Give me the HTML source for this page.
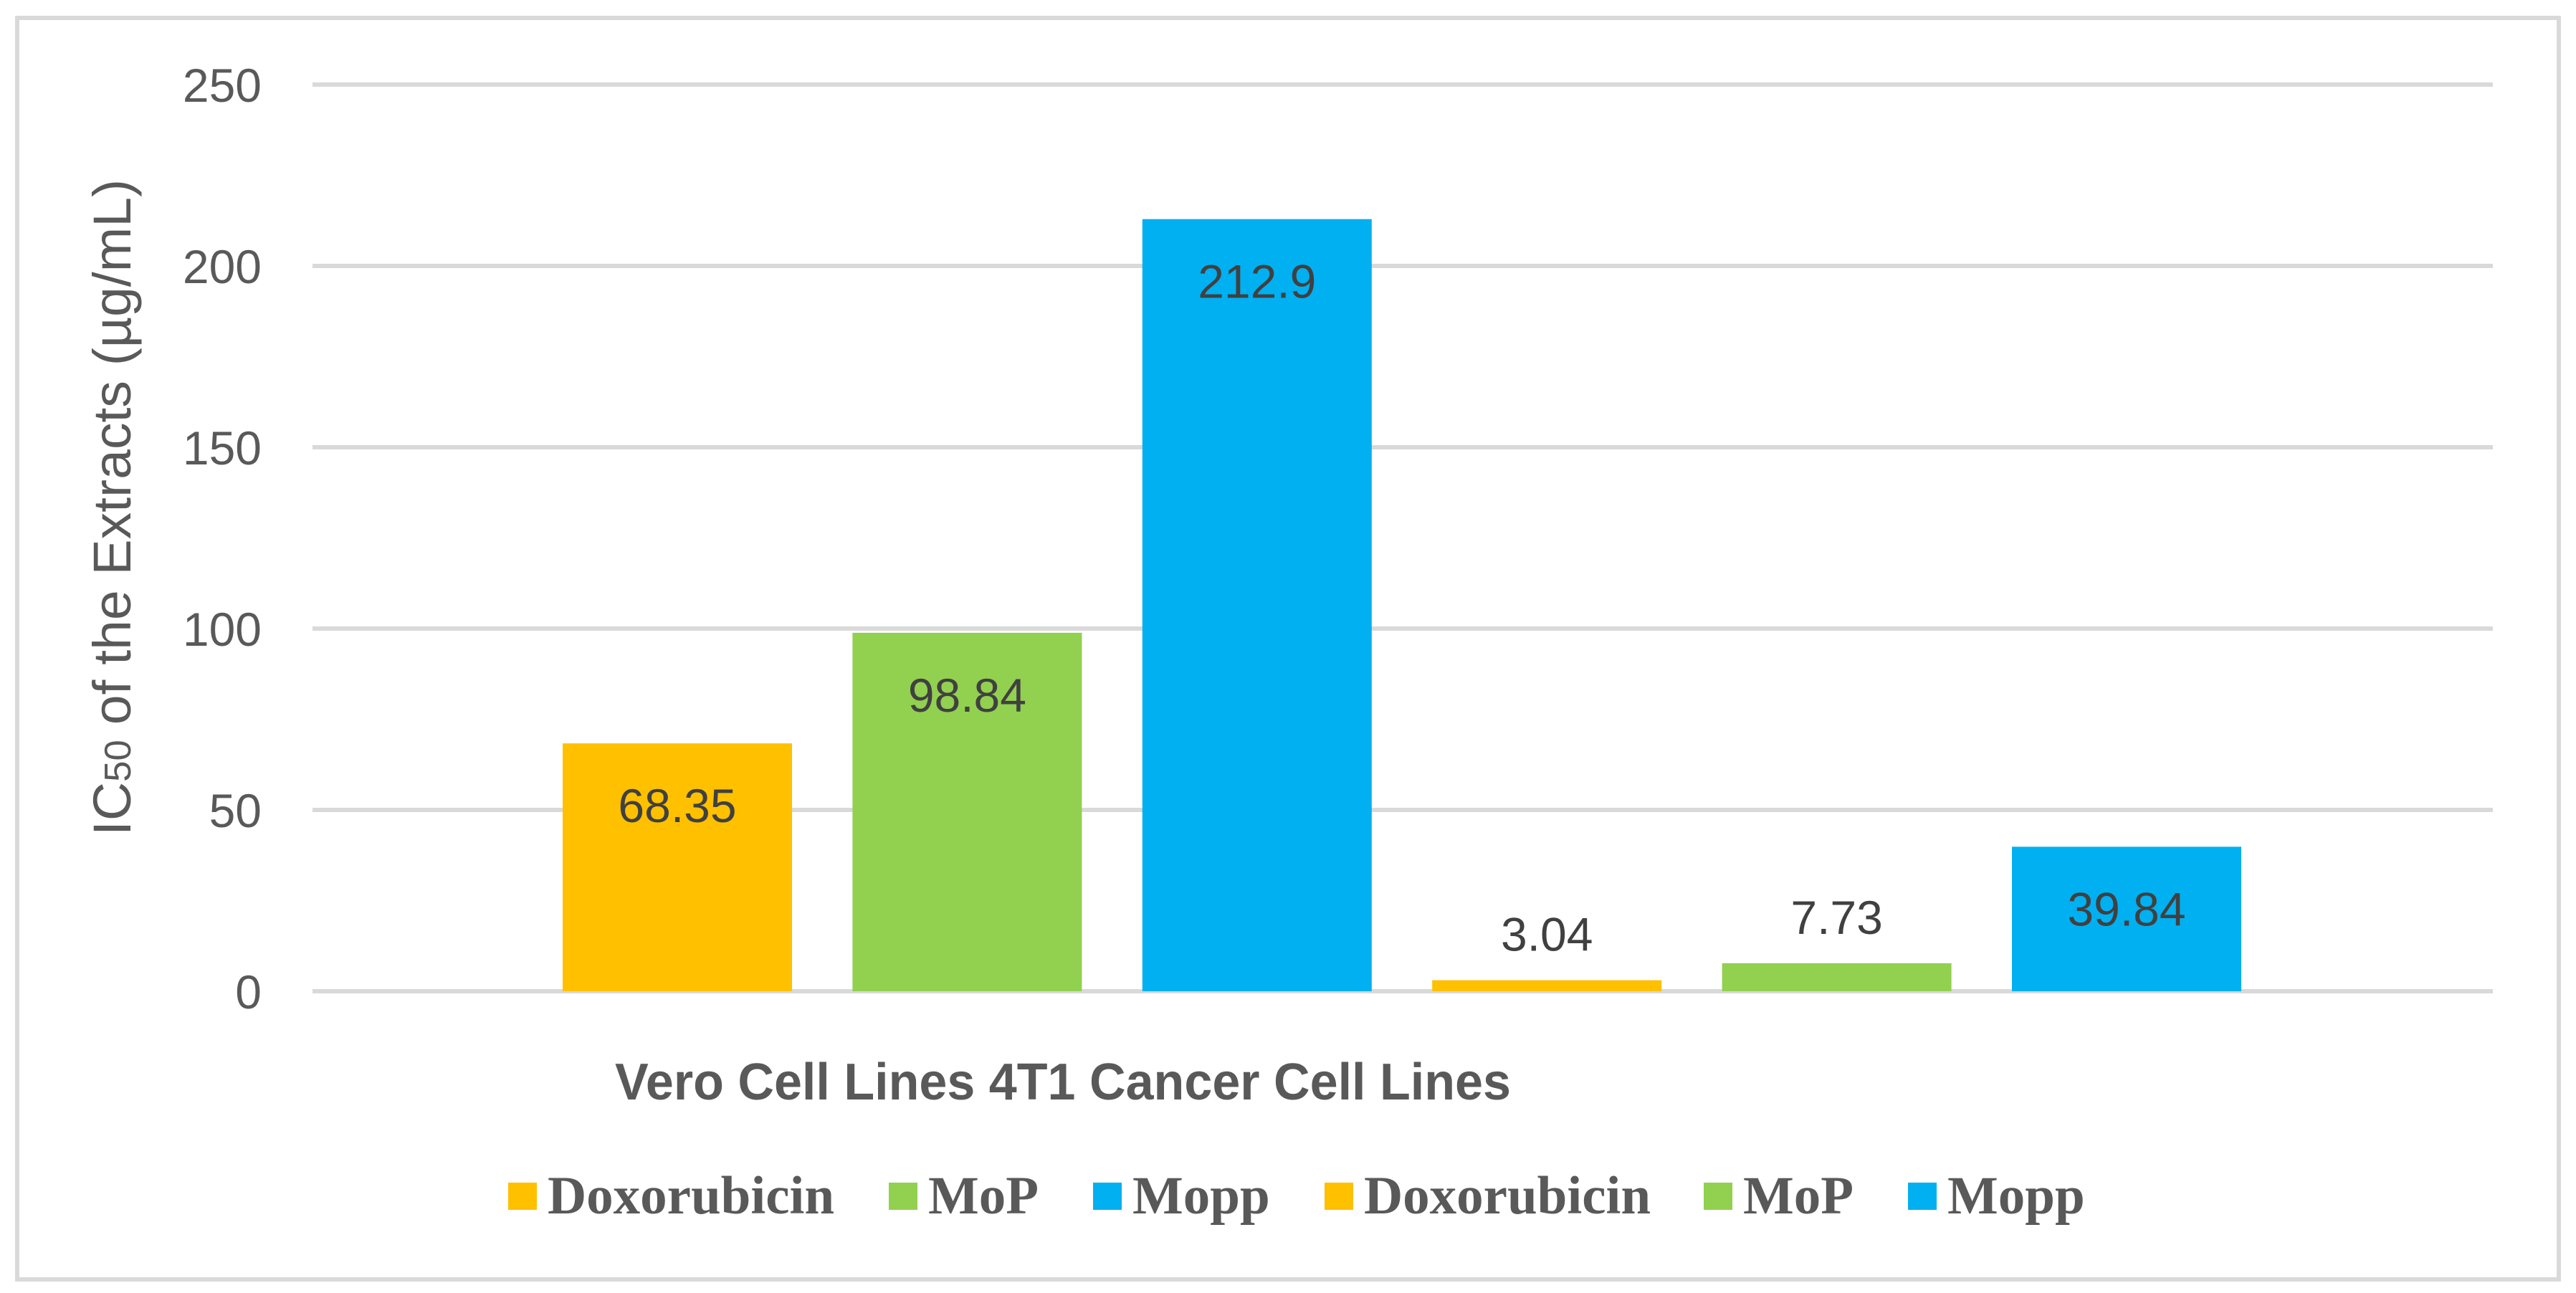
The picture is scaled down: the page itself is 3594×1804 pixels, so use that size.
<!DOCTYPE html>
<html><head><meta charset="utf-8"><style>
html,body{margin:0;padding:0;background:#fff;}
svg{display:block;}
</style></head><body>
<svg id="chart" width="3594" height="1804" viewBox="0 0 3594 1804" xmlns="http://www.w3.org/2000/svg">
<rect x="24" y="25" width="3546" height="1760" fill="#fff" stroke="#d9d9d9" stroke-width="6"/>
<g id="grid"></g>
<g id="yticks"></g>
<g id="bars"></g>
<g id="labels"></g>
<text transform="translate(182,708) rotate(-90)" text-anchor="middle" font-family="Liberation Sans, sans-serif" font-size="74" fill="#595959" textLength="916" lengthAdjust="spacingAndGlyphs">IC<tspan font-size="52">50</tspan> of the Extracts (µg/mL)</text>
<text x="858" y="1534" font-family="Liberation Sans, sans-serif" font-weight="bold" font-size="72" fill="#595959" textLength="1250" lengthAdjust="spacingAndGlyphs">Vero Cell Lines 4T1 Cancer Cell Lines</text>
<g id="legend"></g>
</svg>
<script>
const categories = ["Doxorubicin", "MoP", "Mopp", "Doxorubicin", "MoP", "Mopp"];
const values = [68.35, 98.84, 212.9, 3.04, 7.73, 39.84];
const valueLabels = ["68.35", "98.84", "212.9", "3.04", "7.73", "39.84"];
const colors = ["#FFC000", "#92D050", "#00B0F0", "#FFC000", "#92D050", "#00B0F0"];
const yTicks = [0, 50, 100, 150, 200, 250];
const legendX = [709, 1240, 1525, 1848, 2377, 2662];

const NS = "http://www.w3.org/2000/svg";
const plotLeft = 436, plotRight = 3478, yBase = 1383, yTop = 118, yMax = 250;
const y = v => yBase - (v / yMax) * (yBase - yTop);
const barW = 320, pitch = 404.4, firstLeft = 785;
const x = i => firstLeft + i * pitch;

function mk(tag, attrs, parent) {
  const el = document.createElementNS(NS, tag);
  for (const k in attrs) el.setAttribute(k, attrs[k]);
  parent.appendChild(el);
  return el;
}
const grid = document.getElementById("grid");
const yt = document.getElementById("yticks");
yTicks.forEach(t => {
  const l = mk("line", {x1: plotLeft, x2: plotRight, y1: y(t), y2: y(t), stroke: "#d9d9d9", "stroke-width": 6}, grid);
  
  
  const tx = mk("text", {x: 365, y: y(t) + 24, "text-anchor": "end", "font-family": "Liberation Sans, sans-serif", "font-size": 66, fill: "#595959"}, yt);
  tx.textContent = t;
  
  
});
const bars = document.getElementById("bars");
const labels = document.getElementById("labels");
values.forEach((v, i) => {
  const r = mk("rect", {x: x(i), y: y(v), width: barW, height: yBase - y(v), fill: colors[i]}, bars);
  
  
  const h = yBase - y(v);
  const cy = h > 130 ? y(v) + 86 : y(v) - 65;
  const tx = mk("text", {x: x(i) + barW / 2, y: cy + 24, "text-anchor": "middle", "font-family": "Liberation Sans, sans-serif", "font-size": 66, fill: "#404040"}, labels);
  tx.textContent = valueLabels[i];
  
  
});
const lg = document.getElementById("legend");
categories.forEach((c, i) => {
  const g = mk("g", {}, lg);
  
  
  mk("rect", {x: legendX[i], y: 1650, width: 40, height: 38, fill: colors[i]}, g);
  const t = mk("text", {x: legendX[i] + 55, y: 1693, "font-family": "Liberation Serif, serif", "font-weight": "bold", "font-size": 75, fill: "#595959"}, g);
  t.textContent = c;
});
</script>
</body></html>
